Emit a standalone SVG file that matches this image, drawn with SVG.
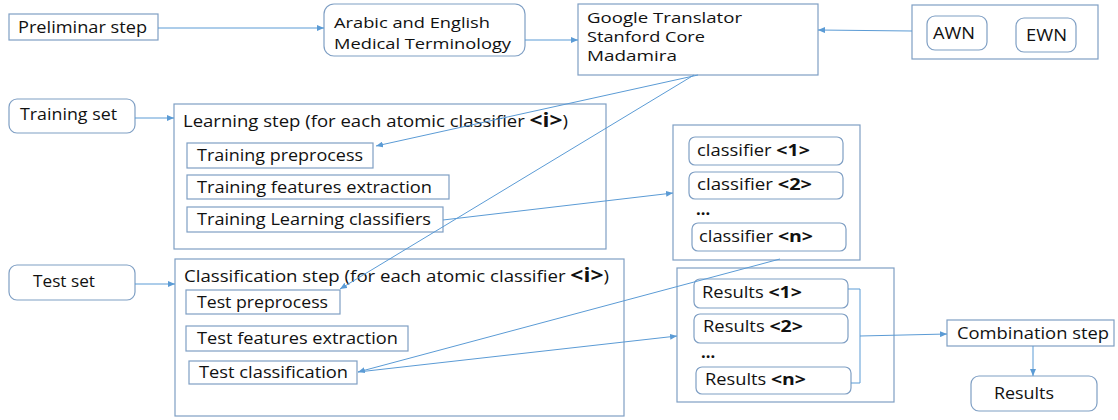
<svg xmlns="http://www.w3.org/2000/svg" width="1118" height="420" viewBox="0 0 1118 420">
<defs>
<marker id="ah" markerWidth="8" markerHeight="6" refX="7" refY="3" orient="auto" markerUnits="userSpaceOnUse">
<path d="M0,0 L7,3 L0,6 Z" fill="#5b9bd5"/>
</marker>
<style>
.box{fill:#fff;stroke:#7f9fc4;stroke-width:1.2}
.t{font-family:"Open Sans","Liberation Sans",sans-serif;font-size:15.5px;fill:#111}
.s{font-size:13.6px}
.m{font-size:14.8px}
.b{font-weight:bold;font-size:16.5px}
.bi{font-weight:bold;font-size:19px}
.c{fill:none;stroke:#5b9bd5;stroke-width:1}
</style>
</defs>
<rect width="1118" height="420" fill="#fff"/>

<g id="preliminar">
<rect class="box" x="9" y="14" width="149" height="26"/>
<text class="t" x="18" y="33" textLength="129" lengthAdjust="spacingAndGlyphs">Preliminar step</text>
</g>
<g id="terminology">
<rect class="box" x="324" y="4" width="201" height="52" rx="10"/>
<text class="t m" x="334" y="28" textLength="156" lengthAdjust="spacingAndGlyphs">Arabic and English</text>
<text class="t m" x="334" y="49" textLength="177" lengthAdjust="spacingAndGlyphs">Medical Terminology</text>
</g>
<g id="tools">
<rect class="box" x="578" y="4" width="240" height="71"/>
<text class="t s" x="587" y="23" textLength="155" lengthAdjust="spacingAndGlyphs">Google Translator</text>
<text class="t s" x="587" y="42" textLength="118" lengthAdjust="spacingAndGlyphs">Stanford Core</text>
<text class="t s" x="587" y="61" textLength="90" lengthAdjust="spacingAndGlyphs">Madamira</text>
</g>
<g id="wordnets">
<rect class="box" x="912" y="5" width="186" height="54"/>
<rect class="box" x="927" y="16" width="60" height="34" rx="8"/>
<text class="t" x="933" y="39" textLength="42" lengthAdjust="spacingAndGlyphs">AWN</text>
<rect class="box" x="1016" y="18" width="60" height="34" rx="8"/>
<text class="t" x="1026" y="41" textLength="41" lengthAdjust="spacingAndGlyphs">EWN</text>
</g>

<g id="trainingset">
<rect class="box" x="9" y="99" width="126" height="34" rx="8"/>
<text class="t" x="20" y="120" textLength="97" lengthAdjust="spacingAndGlyphs">Training set</text>
</g>
<g id="learning">
<rect class="box" x="174" y="104" width="432" height="145"/>
<text class="t" x="183" y="127" textLength="385" lengthAdjust="spacingAndGlyphs">Learning step (for each atomic classifier <tspan class="bi">&lt;i&gt;</tspan>)</text>
<rect class="box" x="187" y="143" width="186" height="25"/>
<text class="t" x="197" y="161" textLength="166" lengthAdjust="spacingAndGlyphs">Training preprocess</text>
<rect class="box" x="187" y="175" width="262" height="24"/>
<text class="t" x="197" y="193" textLength="235" lengthAdjust="spacingAndGlyphs">Training features extraction</text>
<rect class="box" x="187" y="207" width="256" height="25"/>
<text class="t" x="197" y="225" textLength="234" lengthAdjust="spacingAndGlyphs">Training Learning classifiers</text>
</g>
<g id="classifiers">
<rect class="box" x="673" y="125" width="187" height="135"/>
<rect class="box" x="689" y="137" width="154" height="28" rx="6"/>
<text class="t" x="697" y="156" textLength="113" lengthAdjust="spacingAndGlyphs">classifier <tspan class="b">&lt;1&gt;</tspan></text>
<rect class="box" x="689" y="172" width="154" height="27" rx="6"/>
<text class="t" x="697" y="190" textLength="115" lengthAdjust="spacingAndGlyphs">classifier <tspan class="b">&lt;2&gt;</tspan></text>
<text class="t b" x="696" y="215">...</text>
<rect class="box" x="692" y="223" width="154" height="28" rx="6"/>
<text class="t" x="699" y="242" textLength="114" lengthAdjust="spacingAndGlyphs">classifier <tspan class="b">&lt;n&gt;</tspan></text>
</g>

<g id="testset">
<rect class="box" x="9" y="265" width="126" height="35" rx="8"/>
<text class="t" x="33" y="287" textLength="62" lengthAdjust="spacingAndGlyphs">Test set</text>
</g>
<g id="classification">
<rect class="box" x="175" y="259" width="449" height="157"/>
<text class="t" x="184" y="282" textLength="425" lengthAdjust="spacingAndGlyphs">Classification step (for each atomic classifier <tspan class="bi">&lt;i&gt;</tspan>)</text>
<rect class="box" x="186" y="290" width="154" height="24"/>
<text class="t" x="197" y="308" textLength="131" lengthAdjust="spacingAndGlyphs">Test preprocess</text>
<rect class="box" x="186" y="326" width="222" height="25"/>
<text class="t" x="197" y="344" textLength="201" lengthAdjust="spacingAndGlyphs">Test features extraction</text>
<rect class="box" x="189" y="361" width="168" height="23"/>
<text class="t" x="199" y="378" textLength="149" lengthAdjust="spacingAndGlyphs">Test classification</text>
</g>
<g id="results">
<rect class="box" x="677" y="268" width="217" height="134"/>
<rect class="box" x="694" y="279" width="154" height="29" rx="6"/>
<text class="t" x="702" y="298" textLength="100" lengthAdjust="spacingAndGlyphs">Results <tspan class="b">&lt;1&gt;</tspan></text>
<rect class="box" x="694" y="314" width="154" height="29" rx="6"/>
<text class="t" x="703" y="332" textLength="100" lengthAdjust="spacingAndGlyphs">Results <tspan class="b">&lt;2&gt;</tspan></text>
<text class="t b" x="701" y="358">...</text>
<rect class="box" x="696" y="367" width="155" height="27" rx="6"/>
<text class="t" x="705" y="385" textLength="101" lengthAdjust="spacingAndGlyphs">Results <tspan class="b">&lt;n&gt;</tspan></text>
</g>
<g id="combination">
<rect class="box" x="947" y="320" width="167" height="26"/>
<text class="t" x="957" y="339" textLength="152" lengthAdjust="spacingAndGlyphs">Combination step</text>
</g>
<g id="final">
<rect class="box" x="971" y="376" width="126" height="35" rx="8"/>
<text class="t" x="994" y="399" textLength="60" lengthAdjust="spacingAndGlyphs">Results</text>
</g>

<g id="connectors">
<line class="c" x1="158" y1="28" x2="324" y2="28" marker-end="url(#ah)"/>
<line class="c" x1="525" y1="40" x2="578" y2="40" marker-end="url(#ah)"/>
<line class="c" x1="912" y1="31" x2="818" y2="30" marker-end="url(#ah)"/>
<line class="c" x1="135" y1="118" x2="174" y2="118" marker-end="url(#ah)"/>
<line class="c" x1="135" y1="284" x2="175" y2="284" marker-end="url(#ah)"/>
<line class="c" x1="698" y1="75" x2="376" y2="146" marker-end="url(#ah)"/>
<line class="c" x1="694" y1="75" x2="340" y2="289" marker-end="url(#ah)"/>
<line class="c" x1="443" y1="220" x2="673" y2="193" marker-end="url(#ah)"/>
<line class="c" x1="780" y1="259" x2="358" y2="372" marker-end="url(#ah)"/>
<line class="c" x1="358" y1="372" x2="677" y2="336" marker-end="url(#ah)"/>
<polyline class="c" points="848,289 860,289 860,383 851,383"/>
<line class="c" x1="860" y1="336" x2="947" y2="334" marker-end="url(#ah)"/>
<line class="c" x1="1033" y1="346" x2="1033" y2="376" marker-end="url(#ah)"/>
</g>
</svg>
